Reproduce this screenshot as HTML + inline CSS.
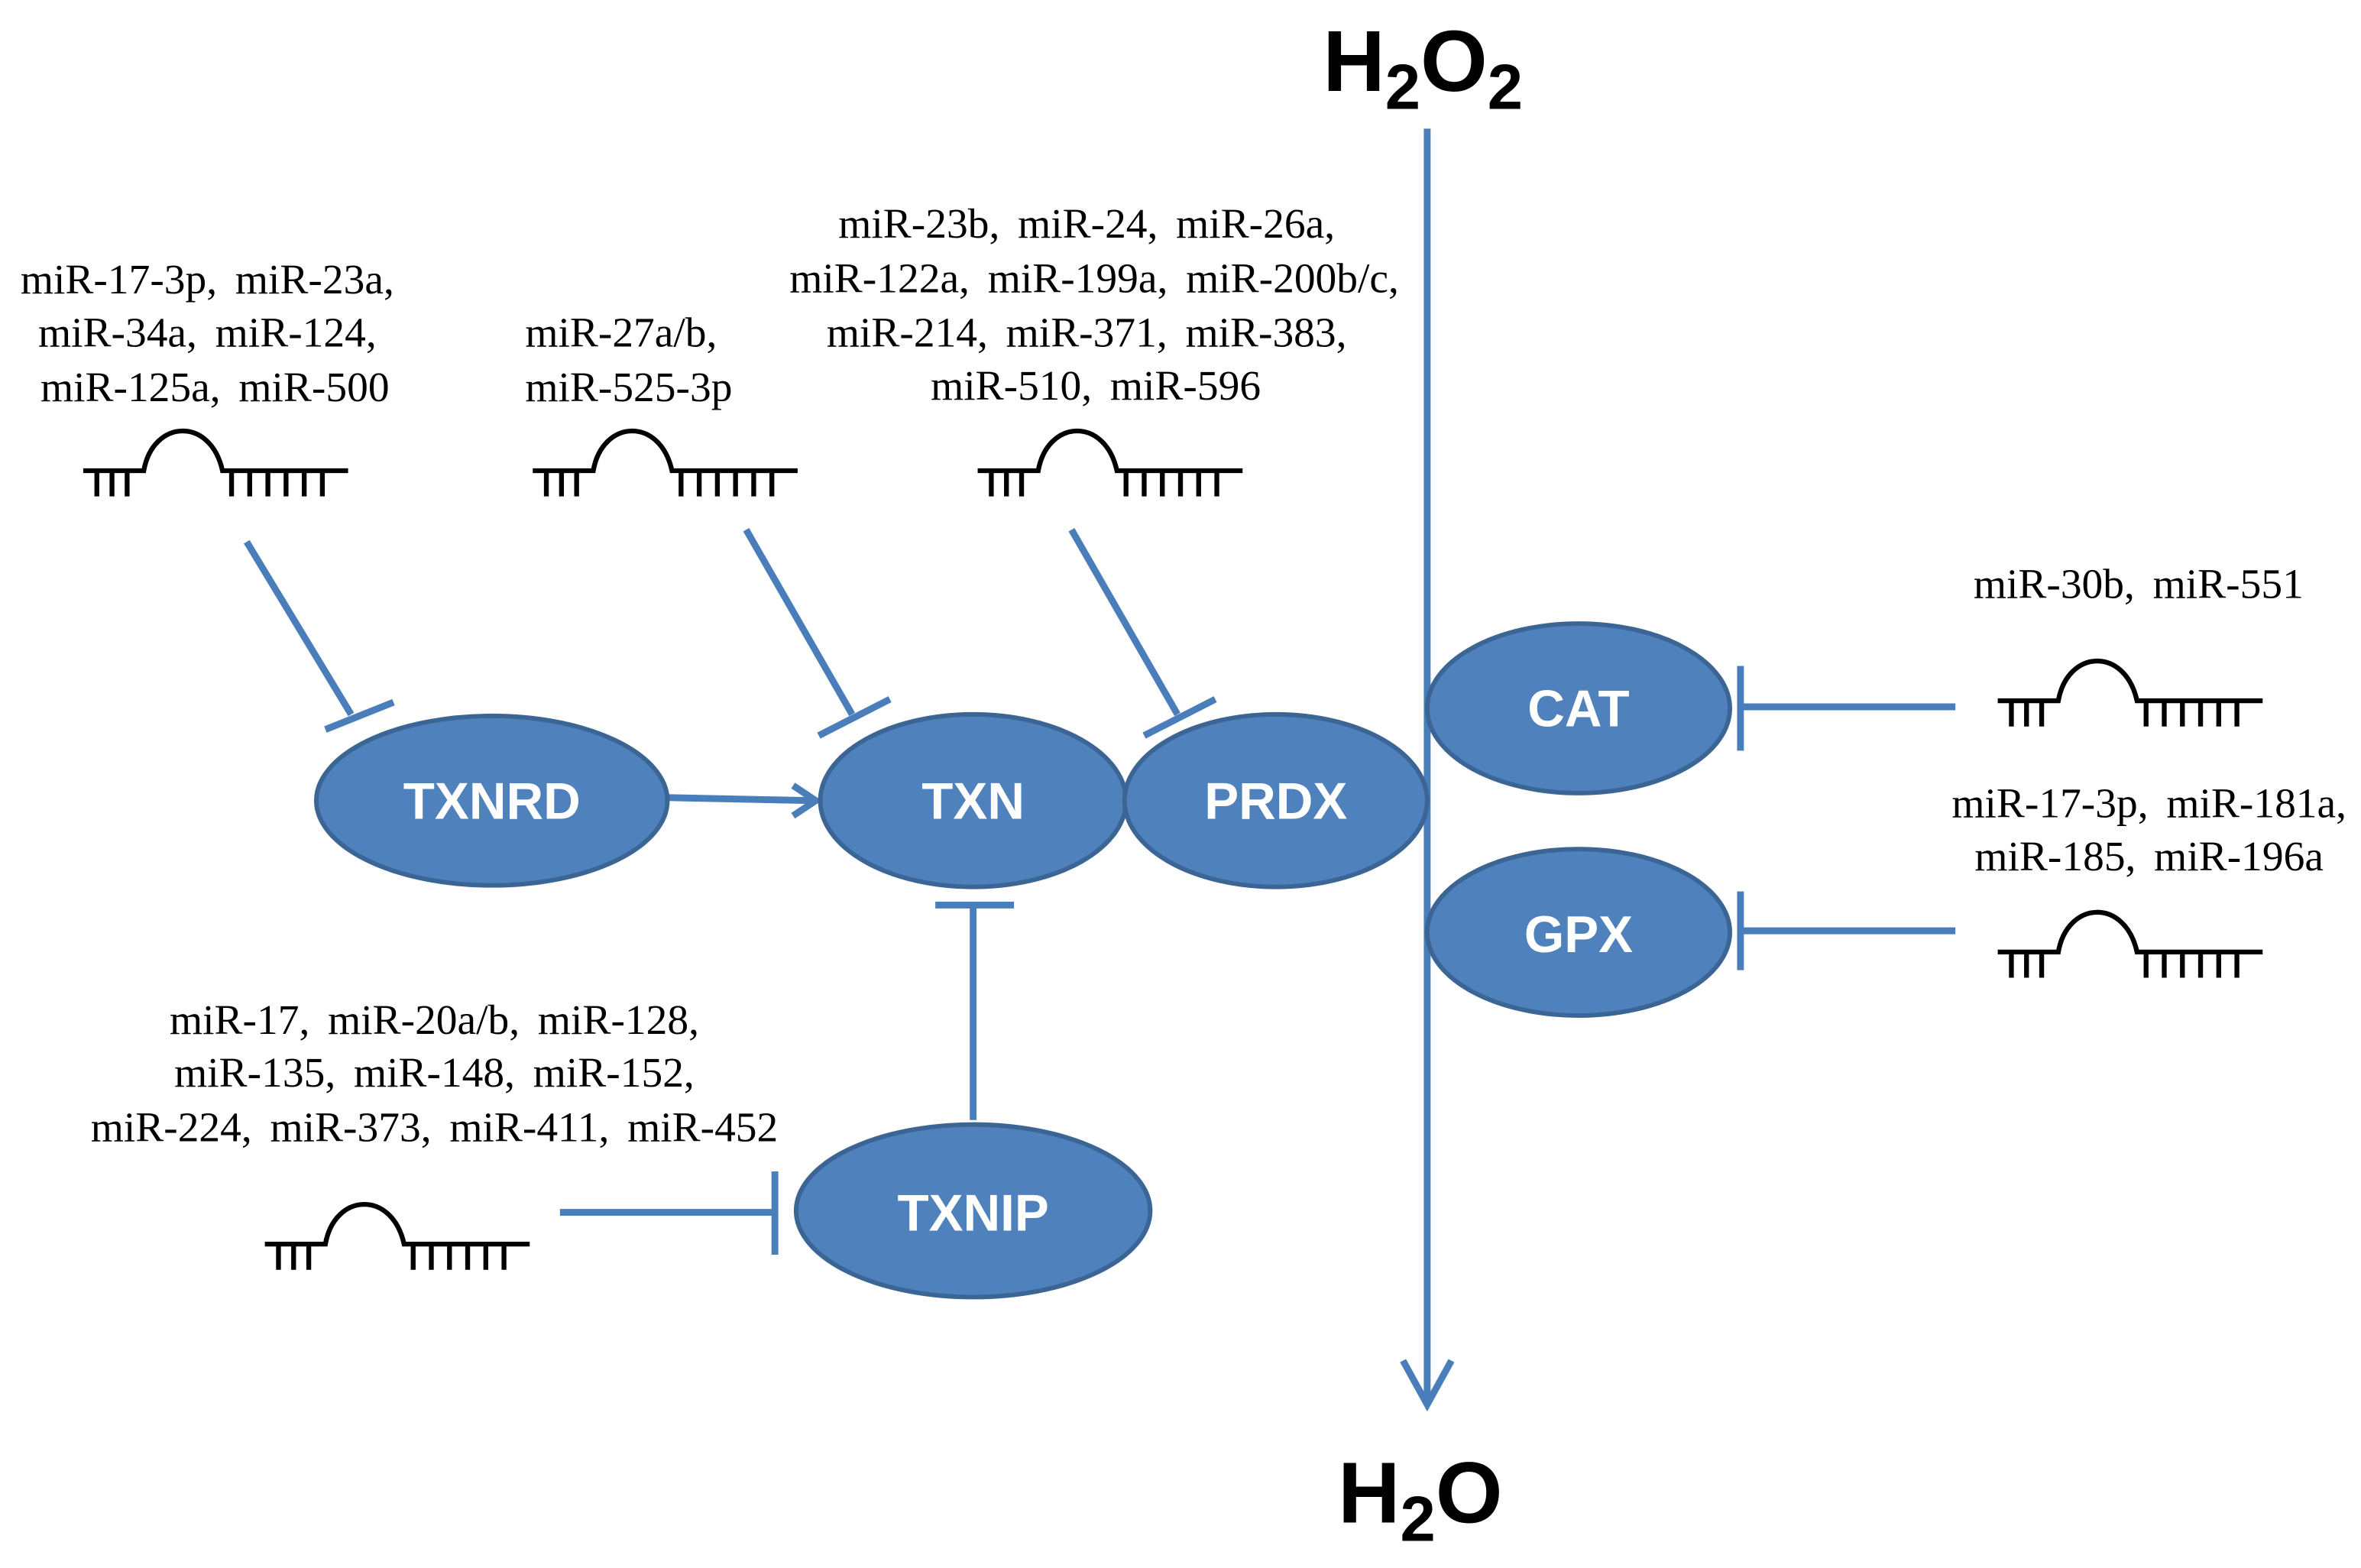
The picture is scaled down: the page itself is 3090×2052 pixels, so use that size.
<!DOCTYPE html>
<html><head><meta charset="utf-8"><style>html,body{margin:0;padding:0;background:#fff}svg{display:block}</style></head>
<body>
<svg width="3090" height="2052" viewBox="0 0 1560 1036" preserveAspectRatio="none" xmlns="http://www.w3.org/2000/svg">
<defs>
<g id="mir" fill="none" stroke="#000" stroke-width="3.2">
<path d="M0,0 H40 C46,-34 84,-36 92,0 H175"/>
<path d="M9,0 v17 M19,0 v17 M29,0 v17 M98,0 v17 M110,0 v17 M122,0 v17 M134,0 v17 M146,0 v17 M158,0 v17"/>
</g>
</defs>
<g stroke="#4a7ebb" stroke-width="4.5" fill="none">
<line x1="943" y1="85" x2="943" y2="928"/>
<polyline points="927,899 943,928 959,899"/>
<line x1="163" y1="358" x2="232" y2="472"/><line x1="215" y1="482" x2="260" y2="464"/>
<line x1="493" y1="350" x2="563" y2="472"/><line x1="541" y1="486" x2="588" y2="462"/>
<line x1="708" y1="350" x2="778" y2="472"/><line x1="756" y1="486" x2="803" y2="462"/>
<line x1="442" y1="527" x2="538" y2="529"/><polyline points="524,519 539,529 524,539"/>
<line x1="643" y1="740" x2="643" y2="598"/><line x1="618" y1="598" x2="670" y2="598"/>
<line x1="370" y1="801" x2="512" y2="801"/><line x1="512" y1="774" x2="512" y2="829"/>
<line x1="1292" y1="467" x2="1150" y2="467"/><line x1="1150" y1="440" x2="1150" y2="496"/>
<line x1="1292" y1="615" x2="1150" y2="615"/><line x1="1150" y1="589" x2="1150" y2="641"/>
</g>
<g fill="#4f81bd" stroke="#3b6595" stroke-width="3">
<ellipse cx="325" cy="529" rx="116" ry="56"/>
<ellipse cx="643" cy="529" rx="101" ry="57"/>
<ellipse cx="843" cy="529" rx="100" ry="57"/>
<ellipse cx="1043" cy="468" rx="100" ry="56"/>
<ellipse cx="1043" cy="616" rx="100" ry="55"/>
<ellipse cx="643" cy="800" rx="117" ry="57"/>
</g>
<g fill="#fff" font-family="Liberation Sans, sans-serif" font-weight="bold" font-size="34" text-anchor="middle">
<text x="325" y="541">TXNRD</text><text x="643" y="541">TXN</text><text x="843" y="541">PRDX</text>
<text x="1043" y="480">CAT</text><text x="1043" y="629">GPX</text><text x="643" y="813">TXNIP</text>
</g>
<use href="#mir" x="55" y="311"/><use href="#mir" x="352" y="311"/><use href="#mir" x="646" y="311"/>
<use href="#mir" x="1320" y="463"/><use href="#mir" x="1320" y="629"/><use href="#mir" x="175" y="822"/>
<g font-family="Liberation Serif, serif" font-size="28" word-spacing="5" text-anchor="middle" fill="#000">
<text x="137" y="194">miR-17-3p, miR-23a,</text>
<text x="137" y="229">miR-34a, miR-124,</text>
<text x="142" y="265">miR-125a, miR-500</text>
<text x="347" y="229" text-anchor="start">miR-27a/b,</text>
<text x="347" y="265" text-anchor="start">miR-525-3p</text>
<text x="718" y="157">miR-23b, miR-24, miR-26a,</text>
<text x="723" y="193">miR-122a, miR-199a, miR-200b/c,</text>
<text x="718" y="229">miR-214, miR-371, miR-383,</text>
<text x="724" y="264">miR-510, miR-596</text>
<text x="1413" y="395">miR-30b, miR-551</text>
<text x="1420" y="540">miR-17-3p, miR-181a,</text>
<text x="1420" y="575">miR-185, miR-196a</text>
<text x="287" y="683">miR-17, miR-20a/b, miR-128,</text>
<text x="287" y="718">miR-135, miR-148, miR-152,</text>
<text x="287" y="754">miR-224, miR-373, miR-411, miR-452</text>
</g>
<g font-family="Liberation Sans, sans-serif" font-weight="bold" font-size="57" fill="#000">
<text x="874" y="60">H<tspan font-size="42" dy="12">2</tspan><tspan dy="-12">O</tspan><tspan font-size="42" dy="12">2</tspan></text>
<text x="884" y="1006">H<tspan font-size="42" dy="12">2</tspan><tspan dy="-12">O</tspan></text>
</g>
</svg>
</body></html>
